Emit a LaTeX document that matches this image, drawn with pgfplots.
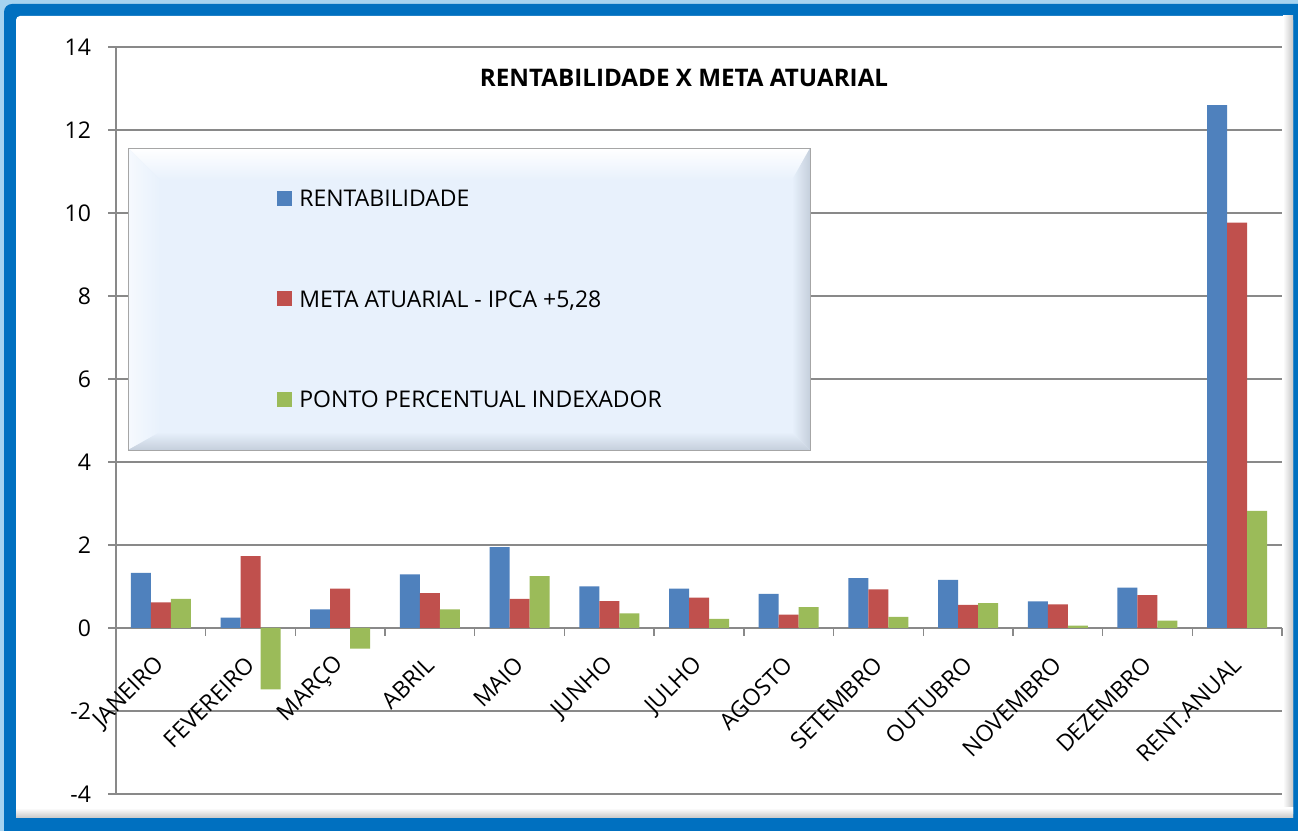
\documentclass[border=0pt]{standalone}
\usepackage{fontspec}
\setmainfont{Open Sans}
\usepackage{pgfplots}
\pgfplotsset{compat=1.18}
\usepackage{pgfplotstable}
\definecolor{sblue}{HTML}{4F81BD}
\definecolor{sred}{HTML}{C0504D}
\definecolor{sgreen}{HTML}{9BBB59}
\definecolor{framedark}{HTML}{0070C0}
\definecolor{framelight}{HTML}{A5D3F0}
\definecolor{gridgray}{HTML}{898989}
\definecolor{legmain}{HTML}{E8F1FC}
\definecolor{legdark}{HTML}{C5CFDC}

\pgfplotstableread{
x rent meta ponto
0  1.33 0.62 0.70
1  0.25 1.73 -1.48
2  0.45 0.95 -0.50
3  1.29 0.84 0.45
4  1.95 0.70 1.25
5  1.00 0.65 0.35
6  0.95 0.73 0.22
7  0.82 0.32 0.50
8  1.20 0.93 0.27
9  1.16 0.56 0.60
10 0.64 0.57 0.06
11 0.97 0.79 0.18
12 12.60 9.77 2.82
}\data

\begin{document}
\begin{tikzpicture}
\useasboundingbox (0,0) rectangle (649pt,415.5pt);
\fill[framelight] (0,0) rectangle (649pt,415.5pt);
\fill[framedark, rounded corners=4pt] (2pt,-4pt) rectangle (653pt,413.5pt);
\fill[white, rounded corners=2pt] (8pt,6.5pt) rectangle (646.5pt,407.5pt);
\shade[left color=white, right color=black!22] (641.5pt,6.5pt) rectangle (646.5pt,407.5pt);
\shade[top color=white, bottom color=black!22] (8pt,6.5pt) rectangle (646.5pt,11.5pt);
\begin{axis}[
  at={(58pt,18.5pt)}, anchor=south west,
  scale only axis, width=583pt, height=373.5pt,
  axis y line*=left, axis x line*=middle,
  xmin=-0.5, xmax=12.5, ymin=-4, ymax=14,
  ytick={-4,-2,...,14},
  xtick={0,...,12},
  xticklabels={JANEIRO,FEVEREIRO,MARÇO,ABRIL,MAIO,JUNHO,JULHO,AGOSTO,SETEMBRO,OUTUBRO,NOVEMBRO,DEZEMBRO,RENT.ANUAL},
  minor xtick={-0.5,0.5,...,12.5},
  every major x tick/.append style={draw=none},
  tick align=outside,
  major tick length=4pt, minor tick length=4pt,
  tick style={gridgray, line width=0.7pt},
  axis line style={gridgray, line width=0.7pt},
  ymajorgrids,
  major grid style={gridgray, line width=0.7pt},
  /pgf/number format/assume math mode=true,
  ticklabel style={font=\fontsize{11.5}{13}\selectfont},
  yticklabel style={xshift=-5pt},
  xticklabel style={yshift=-10pt, xshift=2.5pt, rotate=45, anchor=east},
  ybar=0pt, bar width=10pt,
  legend cell align=left,
  legend image code/.code={\fill[#1] (0pt,-3.75pt) rectangle (7.5pt,3.75pt);},
  legend style={draw=none, fill=none, inner sep=0pt,
    at={(axis cs:1.295,7.93)}, anchor=west,
    font=\fontsize{11.5}{13}\selectfont,
    row sep=42.05pt, column sep=3.5pt,
    nodes={inner sep=0pt, text height=8.2pt, text depth=0pt}},
]
\addplot[fill=sblue, draw=none] table[x=x,y=rent]{\data};
\addplot[fill=sred, draw=none] table[x=x,y=meta]{\data};
\addplot[fill=sgreen, draw=none] table[x=x,y=ponto]{\data};
% legend panel
\fill[legmain] (axis cs:-0.366,4.289) rectangle (axis cs:7.238,11.566);
\shade[top color=white, bottom color=legmain] (axis cs:-0.366,11.566) -- (axis cs:7.238,11.566) -- (axis cs:7.038,10.795) -- (axis cs:-0.009,10.795) -- cycle;
\shade[left color=white!60!legmain, right color=legmain] (axis cs:-0.366,4.289) -- (axis cs:-0.366,11.566) -- (axis cs:-0.009,10.795) -- (axis cs:-0.009,4.723) -- cycle;
\shade[top color=legmain, bottom color=legdark] (axis cs:-0.366,4.289) -- (axis cs:7.238,4.289) -- (axis cs:7.038,4.723) -- (axis cs:-0.009,4.723) -- cycle;
\shade[left color=legmain, right color=legdark] (axis cs:7.238,4.289) -- (axis cs:7.238,11.566) -- (axis cs:7.038,10.795) -- (axis cs:7.038,4.723) -- cycle;
\draw[black!35, line width=0.5pt] (axis cs:-0.366,4.289) rectangle (axis cs:7.238,11.566);
\node[font=\bfseries\fontsize{12.1}{14}\selectfont] at (rel axis cs:0.4871,0.9585) {RENTABILIDADE X META ATUARIAL};
\legend{RENTABILIDADE, {META ATUARIAL - IPCA +5,28}, PONTO PERCENTUAL INDEXADOR}
\end{axis}
\end{tikzpicture}
\end{document}
